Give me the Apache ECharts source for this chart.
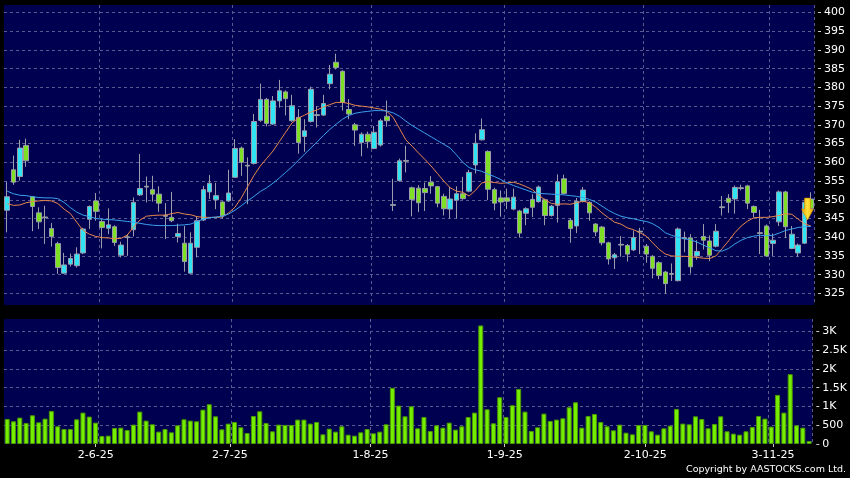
<!DOCTYPE html>
<html><head><meta charset="utf-8">
<script src="https://cdn.jsdelivr.net/npm/echarts@6/dist/echarts.min.js"></script>
<style>html,body{margin:0;padding:0;background:#000}#c{width:850px;height:478px}</style>
</head><body><div id="c"></div>
<script>
// ---- data ----
const dates = [
'13-5-25','14-5-25','15-5-25','16-5-25','19-5-25','20-5-25','21-5-25','22-5-25','23-5-25','26-5-25','27-5-25','28-5-25','29-5-25','30-5-25',
'2-6-25','3-6-25','4-6-25','5-6-25','6-6-25','9-6-25','10-6-25','11-6-25','12-6-25','13-6-25','16-6-25','17-6-25','18-6-25','19-6-25','20-6-25','23-6-25','24-6-25','25-6-25','26-6-25','27-6-25','30-6-25',
'2-7-25','3-7-25','4-7-25','7-7-25','8-7-25','9-7-25','10-7-25','11-7-25','14-7-25','15-7-25','16-7-25','17-7-25','18-7-25','21-7-25','22-7-25','23-7-25','24-7-25','25-7-25','28-7-25','29-7-25','30-7-25','31-7-25',
'1-8-25','4-8-25','5-8-25','6-8-25','7-8-25','8-8-25','11-8-25','12-8-25','13-8-25','14-8-25','15-8-25','18-8-25','19-8-25','20-8-25','21-8-25','22-8-25','25-8-25','26-8-25','27-8-25','28-8-25','29-8-25',
'1-9-25','2-9-25','3-9-25','4-9-25','5-9-25','8-9-25','9-9-25','10-9-25','11-9-25','12-9-25','15-9-25','16-9-25','17-9-25','18-9-25','19-9-25','22-9-25','23-9-25','24-9-25','25-9-25','26-9-25','29-9-25','30-9-25',
'2-10-25','3-10-25','6-10-25','8-10-25','9-10-25','10-10-25','13-10-25','14-10-25','15-10-25','16-10-25','17-10-25','20-10-25','21-10-25','22-10-25','23-10-25','24-10-25','27-10-25','28-10-25','30-10-25','31-10-25',
'3-11-25','4-11-25','5-11-25','6-11-25','7-11-25','10-11-25','11-11-25','12-11-25'];

const xTickLabels = ['2-6-25','2-7-25','1-8-25','1-9-25','2-10-25','3-11-25'];

const openP = [347.2,358.0,356.2,364.5,350.8,346.5,345.4,342.3,338.3,330.4,332.8,332.4,335.8,344.8,349.7,344.2,342.4,342.8,335.2,340.1,
342.0,351.3,353.6,352.7,351.5,345.8,345.3,340.2,338.4,330.4,337.3,344.6,352.1,350.0,349.4,349.7,356.0,363.8,359.2,359.7,
371.2,376.8,370.2,376.4,378.8,371.1,372.0,366.9,370.9,372.7,372.6,381.0,386.7,384.3,374.1,370.0,365.3,367.5,363.7,364.6,
372.3,348.7,355.1,360.5,353.2,353.1,353.0,354.7,353.5,350.9,347.5,349.9,351.6,352.3,359.3,366.0,362.9,352.7,350.5,350.5,
347.5,347.0,346.4,350.1,349.5,350.0,345.8,348.5,355.6,344.5,343.0,349.6,349.3,343.5,342.7,338.5,334.5,338.1,337.8,336.6,
341.6,337.6,334.9,333.2,330.7,330.3,328.4,339.9,339.8,335.0,340.2,339.0,337.6,348.1,350.4,350.2,353.2,353.7,348.2,341.2,
343.0,338.3,344.1,352.1,337.0,335.8,338.4,350.2];

const closeP = [350.8,354.7,363.8,360.4,348.2,344.1,345.2,340.2,331.9,332.6,334.3,335.5,342.2,348.2,346.9,342.6,343.3,338.6,337.9,339.9,
349.3,353.0,353.4,351.5,349.1,345.6,344.4,341.0,333.5,338.4,344.4,352.7,354.4,351.1,345.7,351.8,363.7,360.0,359.0,370.9,
376.8,370.4,376.4,379.1,377.0,375.1,365.3,368.4,379.5,372.5,375.7,383.5,385.3,376.0,372.9,368.6,367.5,365.5,368.0,371.1,
371.1,348.5,360.4,360.3,350.1,349.2,351.9,353.7,349.1,347.6,350.2,351.6,350.3,357.3,365.1,368.7,352.8,349.1,349.4,349.6,
350.7,341.1,347.6,348.0,353.4,345.8,348.3,354.8,351.7,342.3,349.6,352.6,346.5,341.4,338.5,334.2,335.3,337.9,335.5,339.9,
341.4,335.5,331.7,329.8,327.6,330.1,342.2,339.6,332.1,336.2,339.2,335.2,341.6,347.9,349.3,353.3,353.0,349.1,346.6,341.0,
335.0,339.2,352.1,342.8,340.8,337.9,349.3,347.7];

const lowP = [341.3,354.0,355.1,358.8,341.6,342.2,338.2,337.5,330.2,330.2,332.2,331.9,335.5,342.2,344.4,337.0,340.8,337.7,334.6,335.0,
340.2,351.0,349.3,349.5,346.8,339.5,344.0,338.6,330.8,330.4,334.6,344.3,350.2,347.5,345.0,349.4,355.8,356.4,348.8,359.4,
370.8,369.6,370.0,374.6,372.5,370.8,362.3,362.8,370.6,369.3,372.4,379.5,384.8,373.8,371.5,364.4,361.6,363.8,363.5,364.2,
369.5,347.0,354.8,357.3,345.6,346.7,347.0,351.6,348.0,345.8,345.0,345.0,350.0,352.0,357.0,365.8,349.9,347.2,345.5,347.5,
347.2,339.9,343.2,345.4,349.2,343.2,345.5,343.9,351.4,338.5,341.1,349.3,344.4,340.3,337.8,332.7,331.5,334.8,333.5,336.3,
335.5,333.2,329.0,328.8,324.9,328.3,328.2,336.0,330.3,334.0,336.7,333.6,337.3,345.8,346.5,346.3,352.5,347.5,345.3,335.5,
334.8,335.0,343.0,339.8,336.8,334.8,338.2,347.5];

const highP = [354.8,361.8,366.0,366.3,351.0,348.0,348.4,343.8,338.8,335.8,335.6,337.3,342.5,348.5,351.8,344.8,347.7,343.2,338.8,340.8,
350.6,362.2,356.2,356.4,353.6,349.1,352.1,343.6,343.0,341.3,345.5,353.7,356.6,354.5,349.6,358.0,366.2,364.2,361.3,372.9,
381.0,377.2,377.7,382.0,379.2,378.0,374.2,371.5,380.2,375.0,378.0,386.0,389.0,384.6,376.9,370.5,368.0,368.2,369.7,371.6,
376.5,355.6,361.0,364.4,353.5,353.9,354.6,356.3,353.7,351.6,353.4,353.6,356.1,358.0,367.7,371.7,363.2,353.2,352.5,353.0,
353.0,347.3,348.0,351.5,353.8,350.3,348.6,356.8,356.7,345.0,350.5,353.4,349.6,343.8,343.0,338.8,335.8,340.3,338.2,341.8,
342.5,338.2,335.2,333.6,331.0,333.0,342.6,341.5,340.8,339.2,343.5,340.5,343.5,351.0,351.5,353.8,354.0,354.0,348.5,347.3,
343.4,341.0,352.5,352.4,343.0,338.3,349.6,352.0];

const volume = [667,605,703,560,765,578,676,881,472,400,400,658,836,730,569,214,222,427,436,374,
516,863,623,525,329,400,311,498,658,623,605,916,1059,738,391,543,587,445,294,747,
872,560,338,516,507,507,649,649,543,587,258,409,329,472,249,222,311,400,285,329,
525,1495,1023,738,1005,418,720,347,498,436,569,383,472,720,836,3158,925,552,1246,720,
1032,1468,863,347,445,810,614,650,685,979,1112,436,747,800,587,472,365,516,302,258,
507,507,338,249,418,489,934,543,525,738,667,418,534,738,338,276,249,338,454,747,
676,463,1308,836,1860,498,436,80];

const ma10 = [349.0,348.5,348.6,349.2,349.5,349.7,349.8,349.7,349.0,347.5,346.3,344.0,341.8,340.8,340.2,339.9,339.8,339.6,339.7,340.6,
342.8,344.6,345.6,345.8,345.9,345.9,346.3,346.6,346.2,346.0,345.5,345.3,345.3,345.3,345.4,346.5,348.0,350.5,353.5,356.5,
359.0,361.0,363.0,365.5,368.0,370.5,371.8,372.6,373.4,374.0,374.8,375.4,376.0,376.0,375.7,375.2,375.0,374.8,374.5,374.2,
373.6,372.0,369.0,366.0,364.3,362.5,360.8,359.0,357.0,355.0,353.2,352.3,352.0,351.0,352.5,354.5,354.8,354.6,354.4,354.5,
354.7,354.2,353.5,352.7,351.2,350.0,349.0,348.8,348.9,348.8,349.2,349.6,349.2,348.0,346.5,345.2,344.0,343.5,342.5,342.0,
341.2,340.3,338.5,336.8,335.5,335.0,334.9,334.9,334.8,334.6,334.4,334.3,335.0,337.0,339.0,341.2,343.0,344.3,345.2,345.3,
345.3,345.5,345.8,346.3,346.1,344.8,343.6,343.0];

const ma20 = [352.3,351.6,351.2,351.1,350.8,350.6,350.5,350.5,350.3,349.3,347.9,346.7,345.9,345.5,345.0,344.8,344.7,344.6,344.4,344.2,
344.0,343.7,343.4,343.2,343.1,343.1,343.1,343.2,343.3,343.5,344.2,344.8,345.2,345.4,345.6,346.2,347.2,348.4,349.7,350.9,
352.2,353.2,354.4,355.8,357.3,358.8,360.5,362.2,363.8,365.5,367.2,368.8,370.2,371.5,372.5,373.1,373.4,373.6,373.8,373.8,
373.7,373.2,372.3,371.0,369.8,368.8,367.8,366.8,365.8,364.8,363.8,362.0,360.0,358.6,358.0,357.6,356.8,356.2,355.4,354.5,
353.8,353.2,352.6,352.0,351.7,351.6,351.5,351.4,351.3,351.1,350.9,350.6,350.1,349.4,348.3,347.2,346.3,345.6,345.2,344.9,
344.5,344.2,343.6,342.6,341.2,340.5,340.0,339.6,339.3,338.7,337.9,337.2,336.4,336.3,337.0,338.2,339.2,339.9,340.3,340.5,
340.4,340.5,341.1,341.8,342.2,342.6,342.8,342.9];

const signalArrow = { date: '11-11-25', price: 347.5 };

// ---- chart ----
const chart = echarts.init(document.getElementById('c'), null, { renderer: 'canvas' });
const candleData = dates.map((d, i) => [openP[i], closeP[i], lowP[i], highP[i]]);
const isLabel = (i) => xTickLabels.indexOf(dates[i]) >= 0;
const isBoundary = (i) => i > 0 && xTickLabels.indexOf(dates[i - 1]) >= 0;
const FONT = 'DejaVu Sans';
const gridLineStyle = { color: '#5a5a90', type: [3, 3], width: 1 };

const option = {
  backgroundColor: '#000000',
  animation: false,
  grid: [
    { left: 4, right: 36, top: 5, height: 300, show: true, backgroundColor: '#000050', borderWidth: 0 },
    { left: 4, right: 36, top: 319, height: 125, show: true, backgroundColor: '#000050', borderWidth: 0 },
    // date-label band (labels are laid out on a slightly wider step in the original)
    { left: 3, right: 29, top: 319, height: 125, show: false }
  ],
  xAxis: [
    { type: 'category', data: dates, gridIndex: 0, boundaryGap: true,
      axisLine: { show: false }, axisTick: { show: false }, axisLabel: { show: false },
      splitLine: { show: true, interval: (i) => isBoundary(i), lineStyle: gridLineStyle } },
    { type: 'category', data: dates, gridIndex: 1, boundaryGap: true,
      axisLine: { show: false }, axisTick: { show: false }, axisLabel: { show: false },
      splitLine: { show: true, interval: (i) => isBoundary(i), lineStyle: gridLineStyle } },
    { type: 'category', data: dates, gridIndex: 2, boundaryGap: true, offset: 2,
      axisLine: { show: false },
      axisTick: { show: true, alignWithLabel: true, length: 3, interval: (i) => isLabel(i), lineStyle: { color: '#cccccc' } },
      axisLabel: { interval: (i) => isLabel(i), color: '#ffffff', fontFamily: FONT, fontSize: 11, margin: 4 },
      splitLine: { show: false } }
  ],
  yAxis: [
    { type: 'value', gridIndex: 0, position: 'right', min: 321.9, max: 402,
      splitNumber: 16, minInterval: 5, maxInterval: 5, offset: 4, scale: true,
      axisLine: { show: false },
      axisTick: { show: true, length: 3, lineStyle: { color: '#cccccc' } },
      axisLabel: { color: '#ffffff', fontFamily: FONT, fontSize: 11, margin: 6, showMinLabel: false, showMaxLabel: false },
      splitLine: { show: true, showMinLine: false, showMaxLine: false, lineStyle: gridLineStyle } },
    { type: 'value', gridIndex: 1, position: 'right', min: 0, max: 3330, interval: 500, offset: 4,
      axisLine: { show: false },
      axisTick: { show: true, length: 3, lineStyle: { color: '#cccccc' } },
      axisLabel: { color: '#ffffff', fontFamily: FONT, fontSize: 11, margin: 6, showMaxLabel: false,
        formatter: (v) => v >= 1000 ? (v / 1000) + 'K' : String(v) },
      splitLine: { show: true, showMinLine: false, showMaxLine: false, lineStyle: gridLineStyle } },
    { type: 'value', gridIndex: 2, show: false, min: 0, max: 1 }
  ],
  series: [
    { type: 'candlestick', xAxisIndex: 0, yAxisIndex: 0, data: candleData, barWidth: 5,
      itemStyle: { color: '#30e4f4', color0: '#7ee024', borderColor: '#9c9cac', borderColor0: '#9c9cac', borderWidth: 1 },
      markPoint: {
        silent: true,
        label: { show: false },
        data: [{
          coord: [signalArrow.date, signalArrow.price],
          symbol: 'path://M3,0 L9,0 L9,11 L12,11 L6,22 L0,11 L3,11 Z',
          symbolSize: [12, 22], symbolOffset: [3, 0],
          itemStyle: {
            color: new echarts.graphic.LinearGradient(0, 0, 1, 0, [
              { offset: 0, color: '#f2a200' }, { offset: 0.5, color: '#ffe23a' }, { offset: 1, color: '#f0a800' }]),
            borderColor: '#c98a00', borderWidth: 0.6
          }
        }]
      } },
    { type: 'line', xAxisIndex: 0, yAxisIndex: 0, data: ma10, symbol: 'none', smooth: false,
      lineStyle: { color: '#e8884a', width: 1 }, z: 3 },
    { type: 'line', xAxisIndex: 0, yAxisIndex: 0, data: ma20, symbol: 'none', smooth: false,
      lineStyle: { color: '#3aa2ec', width: 1 }, z: 3 },
    { type: 'bar', xAxisIndex: 1, yAxisIndex: 1, data: volume, barWidth: 5,
      itemStyle: { color: '#76ee00', borderColor: '#4a9800', borderWidth: 1 } }
  ],
  graphic: [
    { type: 'text', right: 4, top: 465,
      style: { text: 'Copyright by AASTOCKS.com Ltd.', fill: '#ffffff', font: '9.5px "DejaVu Sans"' } }
  ]
};
chart.setOption(option);
</script>
</body></html>
